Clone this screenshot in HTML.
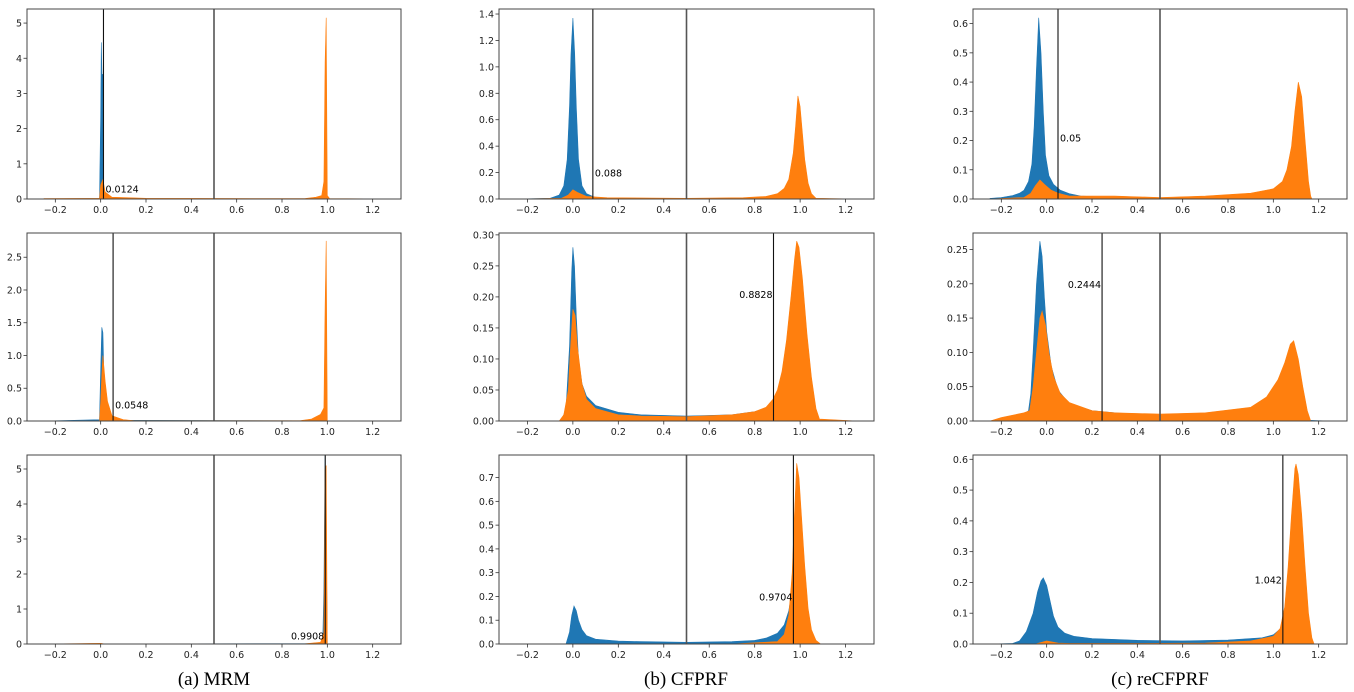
<!DOCTYPE html>
<html><head><meta charset="utf-8"><style>
html,body{margin:0;padding:0;background:#fff;}
svg{display:block;}
text{font-family:"DejaVu Sans","Liberation Sans",sans-serif;}
.cap{font-family:"Liberation Serif",serif;font-size:19px;fill:#000;}
</style></head><body>
<svg id="fig" width="1354" height="692" viewBox="0 0 1354 692" xmlns="http://www.w3.org/2000/svg">
<text class="cap" x="214" y="685" text-anchor="middle">(a) MRM</text>
<text class="cap" x="686" y="685" text-anchor="middle">(b) CFPRF</text>
<text class="cap" x="1160" y="685" text-anchor="middle">(c) reCFPRF</text>
</svg>
<script>
const xTicks=[-0.2,0,0.2,0.4,0.6,0.8,1.0,1.2];
const xMin=-0.325, xMax=1.325;
const boundary=0.5;

const p1BlueX=[-0.25,-0.005,0.0,0.003,0.006,0.009,0.012,0.015,0.03,0.2,1.25];
const p1BlueY=[0,0.01,2.4,4.45,3.5,3.55,0.4,0.05,0.02,0.005,0];
const p1OrangeX=[-0.25,-0.005,0.0,0.01,0.02,0.05,0.2,0.9,0.95,0.975,0.985,0.99,0.995,1.0,1.01,1.25];
const p1OrangeY=[0.01,0.02,0.4,0.55,0.2,0.05,0.02,0.01,0.05,0.1,0.5,3.9,5.15,0.1,0.01,0];

const p2BlueX=[-0.25,-0.1,-0.06,-0.04,-0.025,-0.015,-0.008,0.0,0.008,0.015,0.025,0.04,0.06,0.1,0.2,1.25];
const p2BlueY=[0,0.005,0.03,0.1,0.3,0.7,1.1,1.37,1.1,0.7,0.3,0.1,0.04,0.01,0.003,0];
const p2OrangeX=[-0.25,-0.05,-0.02,0.0,0.02,0.06,0.15,0.5,0.75,0.85,0.9,0.93,0.95,0.97,0.98,0.99,1.0,1.01,1.02,1.035,1.05,1.07,1.25];
const p2OrangeY=[0,0.005,0.03,0.07,0.05,0.02,0.01,0.005,0.01,0.02,0.04,0.08,0.15,0.35,0.55,0.78,0.7,0.5,0.3,0.12,0.04,0.005,0];

const p3BlueX=[-0.25,-0.2,-0.15,-0.12,-0.1,-0.08,-0.065,-0.055,-0.045,-0.035,-0.025,-0.015,-0.005,0.01,0.03,0.06,0.1,0.15,0.3,1.25];
const p3BlueY=[0.002,0.005,0.012,0.02,0.03,0.06,0.12,0.25,0.45,0.62,0.5,0.3,0.15,0.08,0.05,0.03,0.018,0.01,0.005,0];
const p3OrangeX=[-0.25,-0.1,-0.07,-0.05,-0.03,-0.01,0.02,0.05,0.1,0.3,0.5,0.7,0.9,1.0,1.04,1.06,1.08,1.095,1.11,1.125,1.14,1.155,1.165,1.17,1.25];
const p3OrangeY=[0,0.005,0.02,0.045,0.065,0.05,0.03,0.02,0.01,0.01,0.005,0.01,0.02,0.035,0.06,0.1,0.18,0.3,0.4,0.35,0.2,0.06,0.01,0,0];

const p4BlueX=[-0.25,-0.005,0.0,0.005,0.01,0.015,0.02,0.04,0.1,1.25];
const p4BlueY=[0,0.02,0.8,1.43,1.35,0.6,0.2,0.05,0.01,0];
const p4OrangeX=[-0.25,-0.005,0.0,0.005,0.01,0.02,0.03,0.05,0.1,0.15,0.88,0.93,0.97,0.985,0.99,0.995,1.0,1.25];
const p4OrangeY=[0,0,0.3,0.7,1.0,0.6,0.3,0.08,0.02,0.005,0.005,0.03,0.1,0.2,1.75,2.75,0,0];

const p5BlueX=[-0.25,-0.05,-0.03,-0.015,-0.005,0.0,0.007,0.015,0.025,0.04,0.06,0.1,0.2,0.3,0.5,0.7,0.8,0.85,0.9,0.95,1.25];
const p5BlueY=[0,0,0.02,0.12,0.24,0.28,0.25,0.17,0.1,0.06,0.04,0.025,0.014,0.01,0.008,0.01,0.015,0.02,0.04,0,0];
const p5OrangeX=[-0.25,-0.06,-0.04,-0.02,-0.01,0.0,0.01,0.02,0.04,0.06,0.1,0.2,0.3,0.5,0.7,0.8,0.85,0.88,0.9,0.92,0.94,0.96,0.975,0.985,0.995,1.01,1.03,1.05,1.07,1.085,1.25];
const p5OrangeY=[0,0,0.01,0.05,0.12,0.18,0.17,0.12,0.06,0.035,0.02,0.01,0.008,0.007,0.01,0.015,0.022,0.035,0.05,0.08,0.13,0.2,0.26,0.29,0.28,0.23,0.14,0.07,0.02,0.003,0];

const p6BlueX=[-0.25,-0.2,-0.1,-0.08,-0.07,-0.06,-0.045,-0.03,-0.02,-0.01,0.0,0.02,0.05,0.1,0.2,0.3,0.35,1.25];
const p6BlueY=[0,0.003,0.01,0.015,0.04,0.1,0.2,0.262,0.24,0.18,0.13,0.08,0.045,0.025,0.015,0.012,0.01,0];
const p6OrangeX=[-0.25,-0.2,-0.1,-0.075,-0.06,-0.045,-0.03,-0.02,-0.005,0.01,0.03,0.06,0.1,0.2,0.3,0.5,0.7,0.9,0.97,1.02,1.05,1.075,1.09,1.11,1.13,1.15,1.165,1.25];
const p6OrangeY=[0,0.005,0.012,0.015,0.05,0.1,0.15,0.16,0.14,0.1,0.065,0.04,0.027,0.015,0.012,0.01,0.012,0.02,0.035,0.06,0.085,0.112,0.117,0.09,0.05,0.015,0,0];

const p7BlueX=[-0.25,0.97,0.98,0.985,0.99,0.995,1.0,1.25];
const p7BlueY=[0,0.01,0.2,1.6,5.4,3,0,0];
const p7OrangeX=[-0.25,0.0,0.02,0.9,0.97,0.985,0.99,0.995,1.0,1.25];
const p7OrangeY=[0,0.02,0,0.005,0.05,0.3,5.0,5.1,0,0];

const p8BlueX=[-0.25,-0.03,-0.015,-0.005,0.005,0.015,0.025,0.04,0.06,0.1,0.2,0.3,0.5,0.7,0.8,0.85,0.9,0.93,0.95,0.96,0.975,1.25];
const p8BlueY=[0,0,0.05,0.12,0.16,0.14,0.1,0.06,0.035,0.02,0.012,0.01,0.007,0.01,0.015,0.025,0.045,0.08,0.14,0.2,0,0];
const p8OrangeX=[-0.25,0.7,0.8,0.9,0.93,0.95,0.965,0.975,0.985,0.995,1.005,1.02,1.035,1.05,1.07,1.09,1.25];
const p8OrangeY=[0,0,0.005,0.01,0.04,0.12,0.3,0.55,0.76,0.7,0.55,0.33,0.15,0.06,0.015,0,0];

const p9BlueX=[-0.25,-0.15,-0.12,-0.09,-0.06,-0.04,-0.025,-0.015,0.0,0.015,0.03,0.05,0.08,0.12,0.2,0.4,0.6,0.8,0.95,1.0,1.04,1.06,1.25];
const p9BlueY=[0,0.002,0.01,0.04,0.1,0.17,0.205,0.215,0.19,0.14,0.09,0.055,0.035,0.025,0.018,0.012,0.01,0.013,0.02,0.03,0.055,0,0];
const p9OrangeX=[-0.25,-0.05,0.0,0.05,0.1,0.4,0.7,0.9,1.0,1.03,1.05,1.065,1.08,1.095,1.1,1.11,1.125,1.14,1.155,1.17,1.18,1.25];
const p9OrangeY=[0,0,0.01,0.003,0.002,0.002,0.003,0.01,0.025,0.05,0.12,0.25,0.42,0.57,0.585,0.55,0.42,0.25,0.1,0.02,0,0];

const yMaxes=[5.4,1.438,0.65,2.87,0.303,0.274,5.4,0.795,0.614];
const thresholds=[0.0124,0.088,0.05,0.0548,0.8828,0.2444,0.9908,0.9704,1.042];
const thresholdLabels=["0.0124","0.088","0.05","0.0548","0.8828","0.2444","0.9908","0.9704","1.042"];
const labelY=[0.3,0.2,0.21,0.25,0.205,0.2,0.25,0.2,0.21];
const labelLeft=[false,false,false,false,true,true,true,true,true];
const yTicks1=[0,1,2,3,4,5];
const yTicks2=[0,0.2,0.4,0.6,0.8,1.0,1.2,1.4];
const yTicks3=[0,0.1,0.2,0.3,0.4,0.5,0.6];
const yTicks4=[0,0.5,1.0,1.5,2.0,2.5];
const yTicks5=[0,0.05,0.1,0.15,0.2,0.25,0.3];
const yTicks6=[0,0.05,0.1,0.15,0.2,0.25];
const yTicks7=[0,1,2,3,4,5];
const yTicks8=[0,0.1,0.2,0.3,0.4,0.5,0.6,0.7];
const yTicks9=[0,0.1,0.2,0.3,0.4,0.5,0.6];
const yDecimals=[0,1,1,1,2,2,0,1,1];

const panelsBX=[p1BlueX,p2BlueX,p3BlueX,p4BlueX,p5BlueX,p6BlueX,p7BlueX,p8BlueX,p9BlueX];
const panelsBY=[p1BlueY,p2BlueY,p3BlueY,p4BlueY,p5BlueY,p6BlueY,p7BlueY,p8BlueY,p9BlueY];
const panelsOX=[p1OrangeX,p2OrangeX,p3OrangeX,p4OrangeX,p5OrangeX,p6OrangeX,p7OrangeX,p8OrangeX,p9OrangeX];
const panelsOY=[p1OrangeY,p2OrangeY,p3OrangeY,p4OrangeY,p5OrangeY,p6OrangeY,p7OrangeY,p8OrangeY,p9OrangeY];
const panelsYT=[yTicks1,yTicks2,yTicks3,yTicks4,yTicks5,yTicks6,yTicks7,yTicks8,yTicks9];

const colLeft=[27,499,973], colRight=[401,874,1347];
const rowTop=[9,233,455], rowBottom=[199,421,644];
const NS="http://www.w3.org/2000/svg";
const svg=document.getElementById('fig');
function mk(tag,attrs,parent){const e=document.createElementNS(NS,tag);for(const k in attrs)e.setAttribute(k,attrs[k]);parent.appendChild(e);return e;}
const names=["mrm","cfprf","recfprf"];
for(let i=0;i<9;i++){
  const r=Math.floor(i/3), c=i%3;
  const L=colLeft[c],R=colRight[c],T=rowTop[r],B=rowBottom[r];
  const sx=v=>L+(v-xMin)/(xMax-xMin)*(R-L);
  const sy=v=>B-v/yMaxes[i]*(B-T);
  const g=mk('g',{},svg);
  
  
  const clipId='clip'+i;
  const cp=mk('clipPath',{id:clipId},g);
  mk('rect',{x:L,y:T,width:R-L,height:B-T},cp);
  const plot=mk('g',{'clip-path':'url(#'+clipId+')'},g);
  const ser=[[panelsBX[i],panelsBY[i],'#1f77b4','blue-histogram'],[panelsOX[i],panelsOY[i],'#ff7f0e','orange-histogram']];
  ser.forEach(s=>{
    let d='M'+sx(s[0][0]).toFixed(1)+','+sy(0).toFixed(1);
    for(let k=0;k<s[0].length;k++) d+=' L'+sx(s[0][k]).toFixed(1)+','+sy(s[1][k]).toFixed(1);
    d+=' L'+sx(s[0][s[0].length-1]).toFixed(1)+','+sy(0).toFixed(1)+' Z';
    const p=mk('path',{d:d,fill:s[2],stroke:s[2],'stroke-width':0.6},plot);
    
    
  });
  const bl=mk('line',{x1:sx(boundary),x2:sx(boundary),y1:T,y2:B,stroke:'#555','stroke-width':1.6},g);
  
  
  const tl=mk('line',{x1:sx(thresholds[i]),x2:sx(thresholds[i]),y1:T,y2:B,stroke:'#111','stroke-width':1.1},g);
  
  
  const lt=mk('text',{x:labelLeft[i]?sx(thresholds[i])-1:sx(thresholds[i])+2,y:sy(labelY[i])+4,'font-size':9.5,fill:'#000','text-anchor':labelLeft[i]?'end':'start'},g);
  lt.textContent=thresholdLabels[i];
  
  
  const fr=mk('rect',{x:L,y:T,width:R-L,height:B-T,fill:'none',stroke:'#444','stroke-width':1},g);
  
  
  xTicks.forEach(v=>{
    const x=sx(v);
    mk('line',{x1:x,x2:x,y1:B,y2:B+3.5,stroke:'#333','stroke-width':0.8},g);
    const t=mk('text',{x:x,y:B+14,'font-size':9.5,fill:'#222','text-anchor':'middle'},g);
    t.textContent=(v<0?'\u2212':'')+Math.abs(v).toFixed(1);
    
    
  });
  panelsYT[i].forEach(v=>{
    const y=sy(v);
    mk('line',{x1:L-3.5,x2:L,y1:y,y2:y,stroke:'#333','stroke-width':0.8},g);
    const t=mk('text',{x:L-5,y:y+3.5,'font-size':9.5,fill:'#222','text-anchor':'end'},g);
    t.textContent=v.toFixed(yDecimals[i]);
    
    
  });
}
</script>
</body></html>
